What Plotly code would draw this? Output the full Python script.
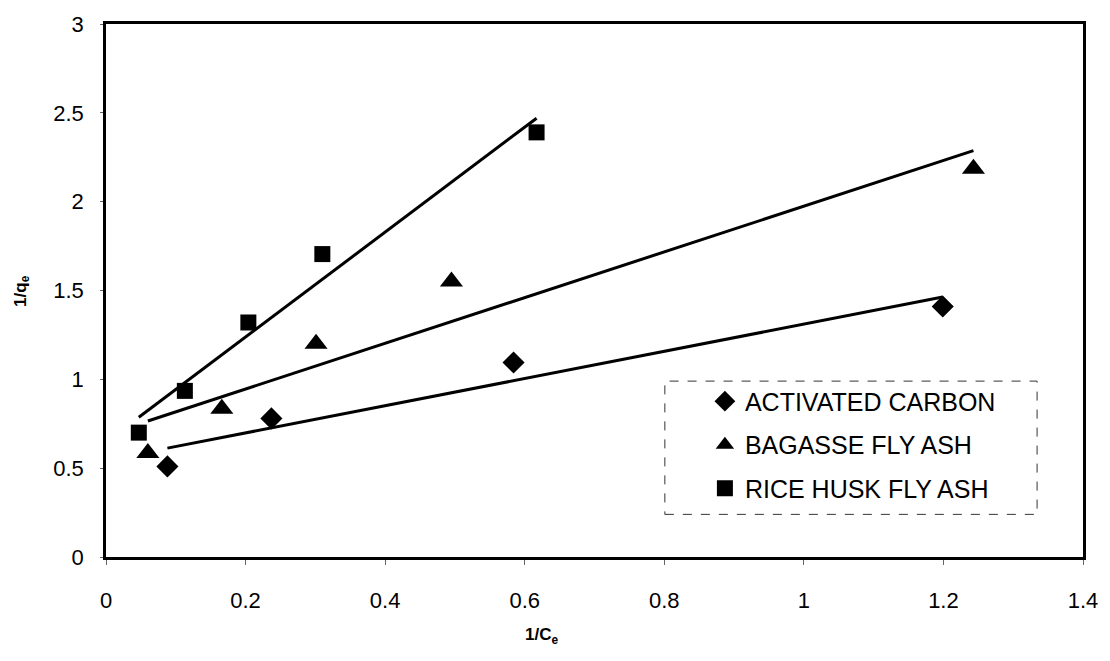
import numpy as np
import plotly.graph_objects as go

# Langmuir linearisation: 1/qe versus 1/Ce for three adsorbents
ac_x = [0.088, 0.237, 0.584, 1.199]
ac_y = [0.51, 0.78, 1.095, 1.41]

bfa_x = [0.060, 0.166, 0.301, 0.495, 1.243]
bfa_y = [0.585, 0.835, 1.20, 1.55, 2.185]

rha_x = [0.047, 0.113, 0.204, 0.310, 0.617]
rha_y = [0.70, 0.935, 1.32, 1.705, 2.39]

series_names = ["ACTIVATED CARBON", "BAGASSE FLY ASH", "RICE HUSK FLY ASH"]

x_ticks = [0, 0.2, 0.4, 0.6, 0.8, 1.0, 1.2, 1.4]
x_tick_text = ["0", "0.2", "0.4", "0.6", "0.8", "1", "1.2", "1.4"]
y_ticks = [0, 0.5, 1.0, 1.5, 2.0, 2.5, 3.0]
y_tick_text = ["0", "0.5", "1", "1.5", "2", "2.5", "3"]

FONT = "Liberation Sans, Arial, sans-serif"

series = [
    (ac_x, ac_y, series_names[0], "diamond", 17),
    (bfa_x, bfa_y, series_names[1], "triangle-up", 20),
    (rha_x, rha_y, series_names[2], "square", 16),
]

fig = go.Figure()

# least-squares trend line over each series' x span
for xs, ys, name, sym, size in series:
    slope, icpt = np.polyfit(xs, ys, 1)
    xl = np.array([min(xs), max(xs)])
    fig.add_trace(go.Scatter(
        x=xl, y=slope * xl + icpt, mode="lines",
        line=dict(color="black", width=3),
        showlegend=False, hoverinfo="skip",
    ))

for xs, ys, name, sym, size in series:
    fig.add_trace(go.Scatter(
        x=xs, y=ys, mode="markers", name=name, legendgroup=name,
        marker=dict(symbol=sym, size=size, color="black", line=dict(width=0)),
    ))

# dashed legend frame
fig.add_shape(
    type="rect", xref="paper", yref="paper",
    x0=0.572, x1=0.953, y0=0.080, y1=0.330,
    line=dict(color="#333", width=1, dash="dash"), fillcolor="white", layer="below",
)

# axis titles placed as annotations
fig.add_annotation(
    text="<b>1/C<sub>e</sub></b>", xref="paper", yref="paper",
    x=0.4455, y=-0.149, xanchor="center", yanchor="middle",
    showarrow=False, font=dict(size=17),
)
fig.add_annotation(
    text="<b>1/q<sub>e</sub></b>", xref="paper", yref="paper",
    x=-0.0866, y=0.5, xanchor="center", yanchor="middle", textangle=-90,
    showarrow=False, font=dict(size=17),
)

fig.update_layout(
    width=1110, height=661,
    margin=dict(l=106, r=23, t=20, b=104),
    paper_bgcolor="white", plot_bgcolor="white",
    font=dict(family=FONT, color="black", size=20),
    showlegend=True,
    legend=dict(
        x=0.613, y=0.335, xanchor="left", yanchor="top",
        bgcolor="rgba(0,0,0,0)", borderwidth=0,
        font=dict(family=FONT, size=25, color="black"),
        tracegroupgap=8, itemwidth=30,
    ),
    xaxis=dict(
        range=[0, 1.4], tickvals=x_ticks, ticktext=x_tick_text,
        showgrid=False, zeroline=False,
        showline=True, linecolor="black", linewidth=2.5, mirror=True,
        ticks="outside", ticklen=5, tickcolor="#666", tickwidth=1,
        ticklabelstandoff=17,
        tickfont=dict(size=22),
    ),
    yaxis=dict(
        range=[0, 3], tickvals=y_ticks, ticktext=y_tick_text,
        showgrid=False, zeroline=False,
        showline=True, linecolor="black", linewidth=2.5, mirror=True,
        ticks="outside", ticklen=3, tickcolor="#666", tickwidth=1,
        ticklabelstandoff=12,
        tickfont=dict(size=22),
    ),
)

fig.write_html("out.html")
